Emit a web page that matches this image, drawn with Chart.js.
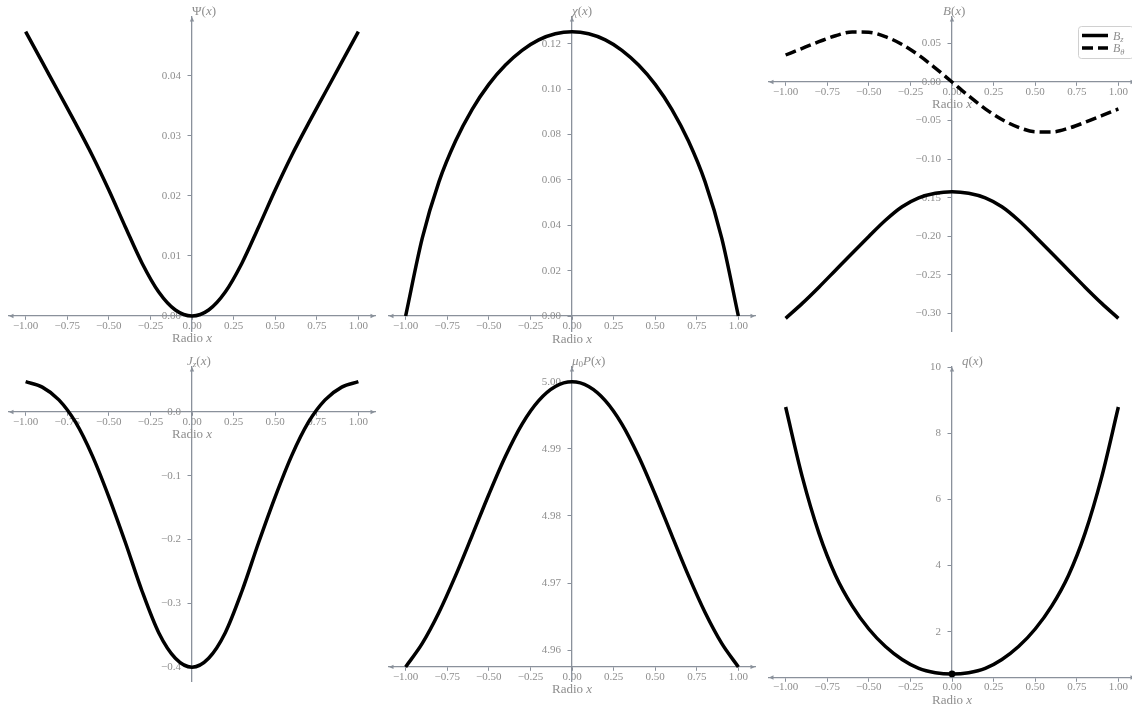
<!DOCTYPE html>
<html lang="es">
<head>
<meta charset="UTF-8">
<title>Perfiles radiales</title>
<style>
  html, body { margin: 0; padding: 0; background: #ffffff; overflow: hidden; }
  #board { position: relative; width: 1132px; height: 709px; overflow: hidden; }
  #board canvas { position: absolute; }
</style>
</head>
<body>
<div id="board">
  <canvas id="psiChart"></canvas>
  <canvas id="chiChart"></canvas>
  <canvas id="bChart"></canvas>
  <canvas id="jzChart"></canvas>
  <canvas id="pChart"></canvas>
  <canvas id="qChart"></canvas>
</div>
<script src="https://cdn.jsdelivr.net/npm/chart.js"></script>
<script>
// radio x, en pasos de 0.1
const radio = [-1.0, -0.9, -0.8, -0.7, -0.6, -0.5, -0.4, -0.3, -0.2, -0.1, 0.0,
               0.1, 0.2, 0.3, 0.4, 0.5, 0.6, 0.7, 0.8, 0.9, 1.0];

// valores
const psi = [0.0474, 0.0423, 0.0372, 0.0321, 0.0268, 0.0210, 0.0148, 0.0088, 0.0040, 0.0010, 0.0000,
             0.0010, 0.0040, 0.0088, 0.0148, 0.0210, 0.0268, 0.0321, 0.0372, 0.0423, 0.0474];
const chi = [0.0000, 0.0343, 0.0591, 0.0771, 0.0911, 0.1021, 0.1106, 0.1171, 0.1217, 0.1244, 0.1253,
             0.1244, 0.1217, 0.1171, 0.1106, 0.1021, 0.0911, 0.0771, 0.0591, 0.0343, 0.0000];
const bz = [-0.3064, -0.2870, -0.2660, -0.2440, -0.2220, -0.2002, -0.1792, -0.1617, -0.1502, -0.1442, -0.1422,
            -0.1442, -0.1502, -0.1617, -0.1792, -0.2002, -0.2220, -0.2440, -0.2660, -0.2870, -0.3064];
const btheta = [0.0350, 0.0437, 0.0522, 0.0600, 0.0648, 0.0645, 0.0588, 0.0487, 0.0348, 0.0180, 0.0000,
                -0.0180, -0.0348, -0.0487, -0.0588, -0.0645, -0.0648, -0.0600, -0.0522, -0.0437, -0.0350];
const jz = [0.0475, 0.0390, 0.0190, -0.0160, -0.0680, -0.1330, -0.2050, -0.2810, -0.3460, -0.3860, -0.4000,
            -0.3860, -0.3460, -0.2810, -0.2050, -0.1330, -0.0680, -0.0160, 0.0190, 0.0390, 0.0475];
const presion = [4.9575, 4.9610, 4.9656, 4.9711, 4.9771, 4.9832, 4.9889, 4.9937, 4.9972, 4.9993, 5.0000,
                 4.9993, 4.9972, 4.9937, 4.9889, 4.9832, 4.9771, 4.9711, 4.9656, 4.9610, 4.9575];
const q = [8.79, 6.68, 4.98, 3.70, 2.78, 2.08, 1.55, 1.16, 0.89, 0.76, 0.72,
           0.76, 0.89, 1.16, 1.55, 2.08, 2.78, 3.70, 4.98, 6.68, 8.79];
const qMarkX = [0.0];
const qMarkY = [0.72];

// ticks
const xTicks = [-1, -0.75, -0.5, -0.25, 0, 0.25, 0.5, 0.75, 1];
const xTickLabels = ['\u22121.00', '\u22120.75', '\u22120.50', '\u22120.25', '0.00', '0.25', '0.50', '0.75', '1.00'];
const psiTicks = [0, 0.01, 0.02, 0.03, 0.04];
const psiTickLabels = ['0.00', '0.01', '0.02', '0.03', '0.04'];
const chiTicks = [0, 0.02, 0.04, 0.06, 0.08, 0.10, 0.12];
const chiTickLabels = ['0.00', '0.02', '0.04', '0.06', '0.08', '0.10', '0.12'];
const bTicks = [0.05, 0, -0.05, -0.10, -0.15, -0.20, -0.25, -0.30];
const bTickLabels = ['0.05', '0.00', '\u22120.05', '\u22120.10', '\u22120.15', '\u22120.20', '\u22120.25', '\u22120.30'];
const jzTicks = [0, -0.1, -0.2, -0.3, -0.4];
const jzTickLabels = ['0.0', '\u22120.1', '\u22120.2', '\u22120.3', '\u22120.4'];
const pTicks = [4.96, 4.97, 4.98, 4.99, 5.00];
const pTickLabels = ['4.96', '4.97', '4.98', '4.99', '5.00'];
const qTicks = [2, 4, 6, 8, 10];
const qTickLabels = ['2', '4', '6', '8', '10'];

const AXIS = '#8a919b';
const TEXT = '#8e8e8e';
const SERIF = '"Liberation Serif", "DejaVu Serif", serif';

function pts(xv, yv) {
    return xv.map((x, i) => ({x: x, y: yv[i]}));
}

function curve(yv, extra) {
    return Object.assign({
        data: pts(radio, yv),
        borderColor: '#000000',
        borderWidth: 3.5,
        pointRadius: 0,
        fill: false,
        cubicInterpolationMode: 'monotone'
    }, extra || {});
}

// texto con partes romanas / italicas / subindices
function richFont(style, size) {
    const sub = style[0] === 's';
    const it = style[style.length - 1] === 'i';
    return (it ? 'italic ' : '') + (sub ? size * 0.7 : size) + 'px ' + SERIF;
}
function richWidth(ctx, parts, size) {
    let w = 0;
    parts.forEach(([t, s]) => { ctx.font = richFont(s, size); w += ctx.measureText(t).width; });
    return w;
}
function drawRich(ctx, parts, x, y, size, color) {
    ctx.save();
    ctx.fillStyle = color;
    ctx.textAlign = 'left';
    ctx.textBaseline = 'alphabetic';
    let cx = x;
    parts.forEach(([t, s]) => {
        ctx.font = richFont(s, size);
        ctx.fillText(t, cx, y + (s[0] === 's' ? size * 0.22 : 0));
        cx += ctx.measureText(t).width;
    });
    ctx.restore();
}

function arrow(ctx, x, y, dx, dy) {
    const len = 4.5, half = 2.2;
    ctx.beginPath();
    ctx.moveTo(x, y);
    ctx.lineTo(x - dx * len - dy * half, y - dy * len + dx * half);
    ctx.lineTo(x - dx * len + dy * half, y - dy * len - dx * half);
    ctx.closePath();
    ctx.fill();
}

function makeDecor(p) {
    return {
        id: 'decor_' + p.id,
        beforeDatasetsDraw(chart) {
            const {ctx, chartArea: a, scales} = chart;
            const y0 = scales.y.getPixelForValue(p.axisAt);
            const x0 = scales.x.getPixelForValue(0);
            ctx.save();
            ctx.fillStyle = AXIS;
            arrow(ctx, a.left, y0, -1, 0);
            arrow(ctx, a.right, y0, 1, 0);
            arrow(ctx, x0, a.top, 0, -1);
            ctx.restore();
        },
        afterDraw(chart) {
            const {ctx, chartArea: a, scales} = chart;
            const y0 = scales.y.getPixelForValue(p.axisAt);
            const x0 = scales.x.getPixelForValue(0);
            // etiqueta del eje y
            drawRich(ctx, p.yLabel, x0 + p.yLabelDx, a.top - 2.5, 13, TEXT);
            // etiqueta del eje x
            const xl = [['Radio ', 'r'], ['x', 'i']];
            const w = richWidth(ctx, xl, 13);
            drawRich(ctx, xl, x0 - w / 2, y0 + 26.5, 13, TEXT);
            // leyenda
            if (p.legend) {
                const bx = a.right - 57, by = a.top + 9, bw = 55, bh = 32;
                ctx.save();
                ctx.fillStyle = 'rgba(255,255,255,0.8)';
                ctx.strokeStyle = '#d0d0d0';
                ctx.lineWidth = 1;
                ctx.beginPath();
                ctx.roundRect(bx + 0.5, by + 0.5, bw, bh, 3);
                ctx.fill();
                ctx.stroke();
                chart.data.datasets.forEach((ds, i) => {
                    const ry = by + 9.5 + i * 12.5;
                    ctx.strokeStyle = ds.borderColor;
                    ctx.lineWidth = ds.borderWidth;
                    ctx.setLineDash(ds.borderDash || []);
                    ctx.beginPath();
                    ctx.moveTo(bx + 4, ry);
                    ctx.lineTo(bx + 30, ry);
                    ctx.stroke();
                    ctx.setLineDash([]);
                    drawRich(ctx, p.legend[i], bx + 35, ry + 4, 12, TEXT);
                });
                ctx.restore();
            }
        }
    };
}

const panels = [
    {id: 'psiChart', col: 0, row: 0, padBottom: 19, ymin: -0.0025, ymax: 0.04983, axisAt: 0,
     yTicks: psiTicks, yTickLabels: psiTickLabels, yLabelDx: 0,
     yLabel: [['\u03A8', 'r'], ['(', 'r'], ['x', 'i'], [')', 'r']],
     datasets: [curve(psi)]},
    {id: 'chiChart', col: 1, row: 0, padBottom: 19, ymin: -0.00661, ymax: 0.1318, axisAt: 0,
     yTicks: chiTicks, yTickLabels: chiTickLabels, yLabelDx: 0,
     yLabel: [['\u03C7', 'i'], ['(', 'r'], ['x', 'i'], [')', 'r']],
     datasets: [curve(chi)]},
    {id: 'bChart', col: 2, row: 0, padBottom: 19, ymin: -0.3228, ymax: 0.08426, axisAt: 0,
     yTicks: bTicks, yTickLabels: bTickLabels, yLabelDx: -9,
     yLabel: [['B', 'i'], ['(', 'r'], ['x', 'i'], [')', 'r']],
     legend: [[['B', 'i'], ['z', 'si']], [['B', 'i'], ['\u03B8', 'si']]],
     datasets: [curve(bz), curve(btheta, {borderDash: [11, 5]})]},
    {id: 'jzChart', col: 0, row: 1, padBottom: 28, ymin: -0.4217, ymax: 0.0705, axisAt: 0,
     yTicks: jzTicks, yTickLabels: jzTickLabels, yLabelDx: -5,
     yLabel: [['J', 'i'], ['z', 'si'], ['(', 'r'], ['x', 'i'], [')', 'r']],
     datasets: [curve(jz)]},
    {id: 'pChart', col: 1, row: 1, padBottom: 28, ymin: 4.9554, ymax: 5.0022, axisAt: 4.9575,
     yTicks: pTicks, yTickLabels: pTickLabels, yLabelDx: 0,
     yLabel: [['\u03BC', 'i'], ['0', 'sr'], ['P', 'i'], ['(', 'r'], ['x', 'i'], [')', 'r']],
     datasets: [curve(presion)]},
    {id: 'qChart', col: 2, row: 1, padBottom: 31.5, ymin: 0.614, ymax: 10, axisAt: 0.614,
     yTicks: qTicks, yTickLabels: qTickLabels, yLabelDx: 10,
     yLabel: [['q', 'i'], ['(', 'r'], ['x', 'i'], [')', 'r']],
     datasets: [curve(q), {data: pts(qMarkX, qMarkY), showLine: false, pointRadius: 3.4,
                           pointBackgroundColor: '#000000', pointBorderWidth: 0}]}
];

panels.forEach(p => {
    const canvas = document.getElementById(p.id);
    const w = 380, h = p.row === 0 ? 350 : 359;
    canvas.width = w;
    canvas.height = h;
    canvas.style.left = (p.col * 380) + 'px';
    canvas.style.top = (p.row === 0 ? 0 : 350) + 'px';
    canvas.style.width = w + 'px';
    canvas.style.height = h + 'px';

    new Chart(canvas, {
        type: 'line',
        data: {datasets: p.datasets},
        plugins: [makeDecor(p)],
        options: {
            responsive: false,
            animation: false,
            events: [],
            layout: {padding: {left: 9, right: 5, top: 17, bottom: p.padBottom}},
            plugins: {legend: {display: false}, tooltip: {enabled: false}},
            scales: {
                x: {
                    type: 'linear', min: -1.1, max: 1.1, bounds: 'data',
                    position: {y: p.axisAt},
                    afterFit(s) { s.height = 0; },
                    afterBuildTicks(s) { s.ticks = xTicks.map(v => ({value: v})); },
                    grid: {display: true, drawOnChartArea: false, drawTicks: true,
                           tickLength: 3.5, tickWidth: 1, tickColor: AXIS},
                    border: {display: true, color: AXIS, width: 1.3},
                    ticks: {autoSkip: false, maxRotation: 0, padding: 0, color: TEXT,
                            font: {family: SERIF, size: 11},
                            callback: (v, i) => xTickLabels[i]}
                },
                y: {
                    type: 'linear', min: p.ymin, max: p.ymax, bounds: 'data',
                    position: {x: 0},
                    afterFit(s) { s.width = 0; },
                    afterBuildTicks(s) { s.ticks = p.yTicks.map(v => ({value: v})); },
                    grid: {display: true, drawOnChartArea: false, drawTicks: true,
                           tickLength: 3.5, tickWidth: 1, tickColor: AXIS},
                    border: {display: true, color: AXIS, width: 1.3},
                    ticks: {autoSkip: false, padding: 0, color: TEXT,
                            font: {family: SERIF, size: 11},
                            callback: (v, i) => p.yTickLabels[i] + '\u2002\u2002'}
                }
            }
        }
    });
});
</script>
</body>
</html>
